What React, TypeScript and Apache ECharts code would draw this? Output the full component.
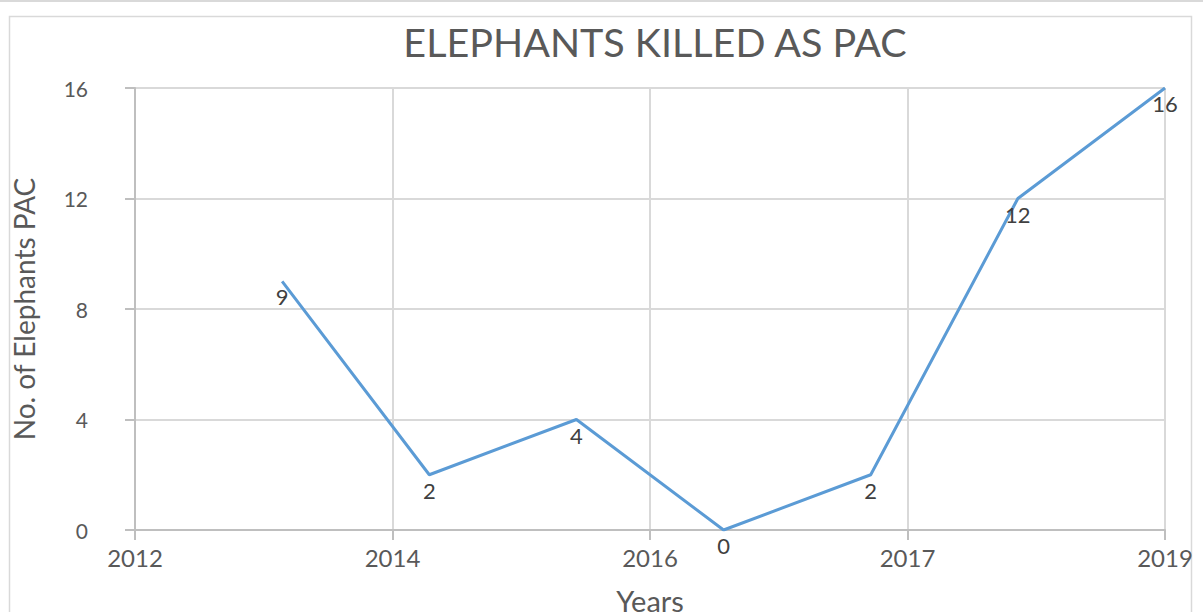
import React, { useEffect, useRef } from "react";
import * as echarts from "echarts";

const tickLabels = ["2012", "2014", "2016", "2017", "2019"];
const pointPositions = [4, 8, 12, 16, 20, 24, 28];
const elephantsKilled = [9, 2, 4, 0, 2, 12, 16];

export default function App() {
  const ref = useRef<HTMLDivElement>(null);
  useEffect(() => {
    if (!ref.current) return;
    const chart = echarts.init(ref.current, null, { renderer: "svg" });
    const font = "Lato, 'Open Sans', sans-serif";
    chart.setOption({
      animation: false,
      backgroundColor: "#ffffff",
      title: {
        text: "ELEPHANTS KILLED AS PAC",
        left: 650,
        top: 16,
        textAlign: "center",
        textStyle: { fontFamily: font, fontSize: 39.5, fontWeight: "normal", color: "#595959" },
      },
      graphic: [
        { type: "rect", shape: { x: 9.5, y: 16.5, width: 1182, height: 620 }, style: { fill: "none", stroke: "#d9d9d9", lineWidth: 1.5 }, silent: true },
        { type: "line", shape: { x1: 0, y1: 1, x2: 1203, y2: 1 }, style: { stroke: "#d9d9d9", lineWidth: 2 }, silent: true },
      ],
      grid: { left: 135, right: 38, top: 88, bottom: 82, outerBoundsMode: "none", containLabel: false },
      xAxis: {
        type: "value",
        min: 0,
        max: 28,
        interval: 7,
        name: "Years",
        nameLocation: "middle",
        nameGap: 56,
        nameTextStyle: { fontFamily: font, fontSize: 29, color: "#595959" },
        axisLine: { show: true, lineStyle: { color: "#bfbfbf", width: 2 } },
        axisTick: { show: true, length: 10, lineStyle: { color: "#bfbfbf", width: 2 } },
        axisLabel: {
          fontFamily: font,
          fontSize: 24,
          color: "#595959",
          margin: 15,
          formatter: (v: number) => tickLabels[Math.round(v / 7)] ?? "",
        },
        splitLine: { show: true, lineStyle: { color: "#d9d9d9", width: 2 } },
      },
      yAxis: {
        type: "value",
        min: 0,
        max: 16,
        interval: 4,
        name: "No. of Elephants PAC",
        nameLocation: "middle",
        nameGap: 97,
        nameRotate: 90,
        nameTextStyle: { fontFamily: font, fontSize: 28, color: "#595959" },
        axisLine: { show: true, lineStyle: { color: "#bfbfbf", width: 2 } },
        axisTick: { show: true, length: 10, lineStyle: { color: "#bfbfbf", width: 2 } },
        axisLabel: { fontFamily: font, fontSize: 21, color: "#595959", margin: 47 },
        splitLine: { show: true, lineStyle: { color: "#d9d9d9", width: 2 } },
      },
      series: [
        {
          type: "line",
          data: pointPositions.map((x, i) => [x, elephantsKilled[i]]),
          showSymbol: true,
          symbol: "circle",
          symbolSize: 1,
          itemStyle: { color: "rgba(91,155,213,0)" },
          lineStyle: { color: "#5b9bd5", width: 3 },
          label: {
            show: true,
            position: "bottom",
            distance: 4,
            fontFamily: font,
            fontSize: 22,
            color: "#404040",
            formatter: (p: any) => String(p.value[1]),
          },
        },
      ],
    });
    return () => chart.dispose();
  }, []);
  return (
    <div
      ref={ref}
      style={{ position: "fixed", left: 0, top: 0, width: 1203, height: 612 }}
    />
  );
}
